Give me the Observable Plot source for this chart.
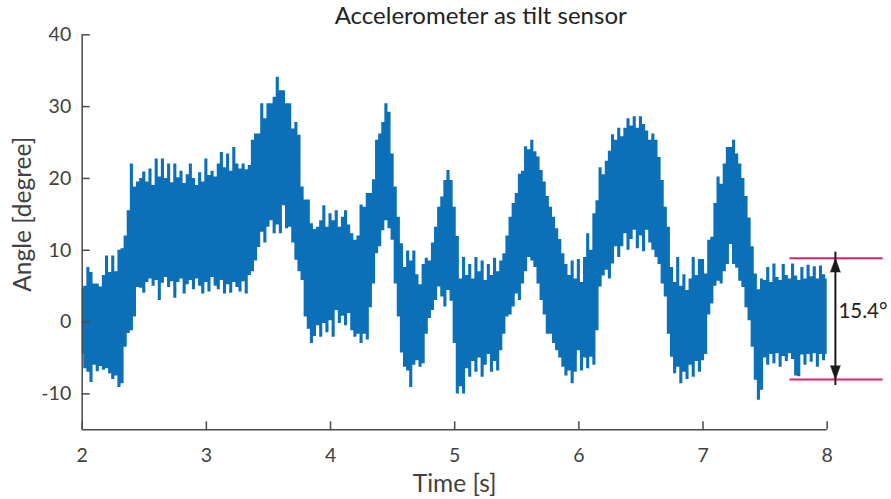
<!DOCTYPE html>
<html>
<head>
<meta charset="utf-8">
<script src="https://cdn.jsdelivr.net/npm/d3@7"></script>
<script src="https://cdn.jsdelivr.net/npm/@observablehq/plot@0.6"></script>
<style>
  body { margin: 0; background: #ffffff; }
  #chart svg { display: block; }
</style>
</head>
<body>
<div id="chart"></div>
<script>
// ---- Text ----
const title = "Accelerometer as tilt sensor";
const xLabel = "Time [s]";
const yLabel = "Angle [degree]";

const tStart = 2;
const tStep = 0.025;
const upper = [
  4.7, 5.0, 7.6, 6.9, 5.3, 5.3, 4.9, 6.5, 9.2, 6.9, 9.2, 7.0, 10.0, 10.2, 12.0, 15.5, 22.0, 18.8, 19.5, 20.0,
  20.9, 19.5, 21.3, 19.0, 22.7, 20.2, 22.7, 20.0, 22.0, 19.4, 22.0, 20.1, 21.0, 19.3, 20.5, 22.0, 20.0, 19.0, 20.8, 19.5,
  22.7, 20.4, 21.0, 20.2, 22.0, 23.6, 21.5, 23.4, 21.0, 24.3, 22.0, 21.3, 22.0, 21.2, 21.8, 25.3, 26.2, 26.2, 30.4, 28.3,
  30.4, 30.4, 31.3, 34.1, 32.2, 32.2, 30.4, 30.4, 26.9, 27.8, 26.0, 18.8, 17.0, 17.0, 13.7, 12.9, 13.2, 14.1, 16.2, 13.2,
  15.1, 14.1, 15.5, 13.2, 14.6, 15.5, 13.5, 12.3, 11.4, 12.0, 16.3, 16.0, 17.9, 17.9, 19.8, 25.3, 26.2, 27.8, 30.4, 29.2,
  23.4, 18.8, 14.6, 10.9, 7.6, 9.9, 8.5, 9.9, 6.6, 5.2, 8.0, 8.9, 8.5, 11.0, 13.2, 16.0, 17.4, 19.7, 21.1, 19.7,
  16.0, 11.9, 6.0, 9.0, 6.5, 8.0, 6.0, 9.0, 7.0, 8.5, 5.8, 8.0, 6.5, 8.9, 7.0, 8.5, 9.5, 12.0, 14.6, 16.5,
  17.9, 20.6, 21.0, 24.4, 24.0, 25.3, 23.7, 23.0, 21.1, 19.5, 17.5, 16.0, 14.6, 13.0, 11.5, 9.5, 8.0, 6.5, 8.5, 6.0,
  8.7, 5.5, 9.0, 12.3, 10.0, 15.1, 16.9, 21.5, 20.5, 22.4, 23.8, 26.1, 25.3, 27.0, 25.8, 27.0, 28.3, 27.3, 28.6, 27.0,
  28.6, 27.5, 26.6, 25.3, 26.2, 25.3, 22.9, 19.7, 16.0, 13.2, 7.6, 5.5, 9.0, 5.0, 6.6, 4.4, 6.0, 9.0, 6.5, 8.7,
  8.7, 6.7, 11.4, 11.8, 16.5, 20.2, 19.2, 22.0, 24.3, 24.3, 25.3, 23.4, 22.0, 20.0, 17.5, 14.5, 10.5, 6.7, 4.5, 6.0,
  5.8, 7.6, 5.5, 8.1, 6.2, 5.8, 8.0, 6.5, 6.0, 8.1, 6.4, 5.8, 7.6, 6.0, 7.9, 6.3, 7.7, 6.0, 7.8, 6.6, 6.0
];
const lower = [
  -4.4, -6.5, -7.0, -8.4, -6.0, -6.9, -6.2, -6.7, -6.5, -7.2, -8.0, -7.5, -9.1, -8.6, -3.5, -1.6, -1.2, 0.7, 4.8, 4.7,
  4.0, 5.5, 6.0, 5.0, 5.8, 3.0, 5.4, 6.2, 4.8, 5.6, 3.3, 5.5, 6.0, 3.9, 5.2, 5.8, 4.5, 6.0, 5.0, 3.9,
  5.5, 4.2, 6.2, 5.0, 4.5, 5.8, 3.9, 5.2, 4.0, 5.5, 4.8, 4.2, 5.6, 3.9, 6.5, 7.0, 8.5, 10.4, 12.5, 11.0,
  13.2, 14.1, 12.3, 13.5, 12.3, 16.2, 13.0, 13.2, 11.0, 8.6, 7.0, 5.8, 0.7, -1.0, -3.0, -2.0, -0.5, -2.1, -0.2, -1.5,
  0.2, -2.1, 1.6, -0.2, 0.8, -0.5, 1.2, -1.2, -2.1, -1.7, -3.0, -1.7, -2.5, 2.0, 5.3, 9.5, 10.5, 12.7, 14.1, 13.0,
  11.4, 5.3, 0.7, -4.3, -6.3, -6.8, -9.1, -6.0, -5.4, -6.3, -5.8, -1.7, 0.5, 1.6, 3.0, 4.9, 3.5, 2.1, 4.4, 2.9,
  -3.0, -10.0, -9.0, -10.0, -6.5, -7.7, -5.5, -7.0, -5.0, -7.7, -6.0, -4.5, -7.0, -5.5, -6.8, -4.0, -1.7, 0.7, 1.0, 2.1,
  3.9, 3.0, 5.3, 7.0, 9.0, 8.5, 7.6, 5.3, 3.0, 1.0, -1.7, -1.7, -3.0, -4.0, -5.0, -6.3, -7.5, -6.8, -8.6, -7.0,
  -4.0, -6.8, -5.0, -6.5, -4.9, -6.0, -1.2, 4.9, 6.4, 7.2, 6.0, 8.1, 10.5, 9.0, 10.5, 12.3, 10.0, 11.5, 12.8, 10.2,
  12.0, 9.8, 12.8, 11.0, 10.0, 9.0, 8.0, 5.3, 3.5, -1.7, -4.9, -7.2, -6.3, -8.6, -7.0, -8.0, -6.0, -7.7, -5.5, -7.0,
  -5.4, -4.5, 1.0, 2.5, 5.0, 5.7, 5.3, 7.0, 8.0, 10.8, 8.0, 7.5, 5.7, 4.8, 2.0, 0.2, -3.5, -8.1, -10.9, -9.5,
  -5.0, -6.0, -4.5, -5.8, -4.4, -6.3, -4.8, -5.5, -4.4, -5.2, -7.5, -7.6, -4.6, -6.0, -4.5, -5.6, -4.4, -6.3, -4.5, -5.4, -4.5
];

// ---- Axes ----
const xDomain = [2, 8];
const yDomain = [-15, 40];
const xTicks = [2, 3, 4, 5, 6, 7, 8];
const yTicks = [-10, 0, 10, 20, 30, 40];

// ---- Annotation (range marker) ----
const bandLevels = [8.9, -8.0];
const bandStartX = 7.70;
const bandEndX = 8.45;
const arrowX = 8.066;
const bandLabel = "15.4\u00B0";
const bandLabelX = 8.09;
const bandLabelY = 1.5;

// ---- Build table ----
const signal = upper.map((hi, i) => ({t: tStart + i * tStep, hi, lo: lower[i]}));

const blue = "#0c70b8";
const axisColor = "#4a4a4a";
const textColor = "#404040";

const chart = Plot.plot({
  width: 891,
  height: 499,
  marginLeft: 81.7,
  marginRight: 64.3,
  marginTop: 34.3,
  marginBottom: 69.7,
  x: {domain: xDomain},
  y: {domain: yDomain},
  style: {fontFamily: "Lato, 'Open Sans', sans-serif", background: "white", color: axisColor, overflow: "visible"},
  marks: [
    Plot.areaY(signal, {x: "t", y1: "lo", y2: "hi", curve: "step", fill: blue}),
    // axis lines
    Plot.ruleX([xDomain[0]], {y1: yDomain[0], y2: yDomain[1], stroke: axisColor, strokeWidth: 1.5}),
    Plot.ruleY([yDomain[0]], {x1: xDomain[0], x2: xDomain[1], stroke: axisColor, strokeWidth: 1.5}),
    // inward ticks
    Plot.axisY(yTicks, {tickSize: 8, dx: 8, tickFormat: () => "", label: null, strokeWidth: 1.5, stroke: axisColor}),
    Plot.axisX(xTicks, {tickSize: 8, dy: -8, tickFormat: () => "", label: null, strokeWidth: 1.5, stroke: axisColor}),
    // tick labels
    Plot.axisY(yTicks, {tickSize: 0, tickPadding: 11, tickFormat: d => String(d), label: null, fontSize: 19.5, fill: textColor}),
    Plot.axisX(xTicks, {tickSize: 0, tickPadding: 18, tickFormat: d => String(d), label: null, fontSize: 19.5, fill: textColor}),
    // axis titles
    Plot.text([xLabel], {frameAnchor: "bottom", lineAnchor: "middle", textAnchor: "middle", dy: 54.5, fontSize: 24.5, fill: textColor}),
    Plot.text([yLabel], {frameAnchor: "left", lineAnchor: "middle", textAnchor: "middle", rotate: -90, dx: -59.5, dy: -18, fontSize: 24.5, fill: textColor}),
    // chart title
    Plot.text([title], {frameAnchor: "top", lineAnchor: "middle", textAnchor: "middle", dx: 26, dy: -18.6, fontSize: 24, fill: "#222222"}),
    // annotation
    Plot.ruleY(bandLevels, {x1: bandStartX, x2: bandEndX, stroke: "#e31f6c", strokeWidth: 2}),
    Plot.ruleX([arrowX], {y1: bandLevels[1], y2: bandLevels[0], stroke: "#1a1a1a", strokeWidth: 2, insetTop: 6, insetBottom: 6}),
    Plot.vector(bandLevels, {x: arrowX, y: d => d, length: 14, r: 5, rotate: d => (d > 0 ? 0 : 180), shape: "spike", anchor: "end", fill: "#1a1a1a", stroke: "#1a1a1a", strokeWidth: 0.5}),
    Plot.text([bandLabel], {x: bandLabelX, y: bandLabelY, textAnchor: "start", fontSize: 20.5, fill: "#222222"})
  ]
});

document.getElementById("chart").appendChild(chart);
</script>
</body>
</html>
